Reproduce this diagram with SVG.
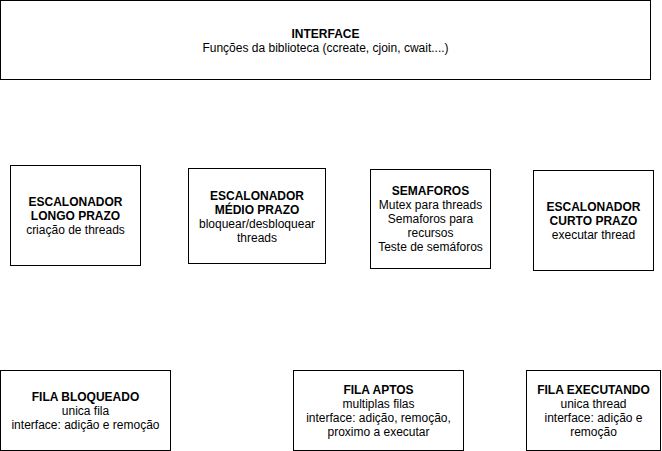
<svg xmlns="http://www.w3.org/2000/svg" width="662" height="451" viewBox="0 0 662 451">
<style>
.box{fill:#fff;stroke:#000;stroke-width:1}
text{font-family:"Liberation Sans",Arial,Helvetica,sans-serif;font-size:12px;fill:#000;text-anchor:middle}
.b{font-weight:bold}
</style>
<rect x="0" y="0" width="662" height="451" fill="#fff"/>
<g id="connectors"></g>
<g id="interface">
<rect class="box" x="0.5" y="0.5" width="650" height="79"/>
<text x="325.5" y="38" class="b">INTERFACE</text>
<text x="325.5" y="52">Funções da biblioteca (ccreate, cjoin, cwait....)</text>
</g>
<g id="longo">
<rect class="box" x="10.5" y="165.5" width="130" height="100"/>
<text x="75.5" y="206" class="b">ESCALONADOR</text>
<text x="75.5" y="220" class="b">LONGO PRAZO</text>
<text x="75.5" y="234">criação de threads</text>
</g>
<g id="medio">
<rect class="box" x="188.5" y="168.5" width="137" height="95"/>
<text x="257" y="200" class="b">ESCALONADOR</text>
<text x="257" y="214" class="b">MÉDIO PRAZO</text>
<text x="257" y="228">bloquear/desbloquear</text>
<text x="257" y="242">threads</text>
</g>
<g id="semaforos">
<rect class="box" x="370.5" y="169.5" width="120" height="99"/>
<text x="430.5" y="195" class="b">SEMAFOROS</text>
<text x="430.5" y="209">Mutex para threads</text>
<text x="430.5" y="223">Semaforos para</text>
<text x="430.5" y="237">recursos</text>
<text x="430.5" y="251">Teste de semáforos</text>
</g>
<g id="curto">
<rect class="box" x="533.5" y="170.5" width="120" height="100"/>
<text x="593.5" y="211" class="b">ESCALONADOR</text>
<text x="593.5" y="225" class="b">CURTO PRAZO</text>
<text x="593.5" y="239">executar thread</text>
</g>
<g id="bloqueado">
<rect class="box" x="0.5" y="370.5" width="170" height="80"/>
<text x="85.5" y="401" class="b">FILA BLOQUEADO</text>
<text x="85.5" y="415">unica fila</text>
<text x="85.5" y="429">interface: adição e remoção</text>
</g>
<g id="aptos">
<rect class="box" x="293.5" y="370.5" width="170" height="80"/>
<text x="378.5" y="394" class="b">FILA APTOS</text>
<text x="378.5" y="408">multiplas filas</text>
<text x="378.5" y="422">interface: adição, remoção,</text>
<text x="378.5" y="436">proximo a executar</text>
</g>
<g id="executando">
<rect class="box" x="526.5" y="370.5" width="134" height="80"/>
<text x="593.5" y="394" class="b">FILA EXECUTANDO</text>
<text x="593.5" y="408">unica thread</text>
<text x="593.5" y="422">interface: adição e</text>
<text x="593.5" y="436">remoção</text>
</g>
</svg>
